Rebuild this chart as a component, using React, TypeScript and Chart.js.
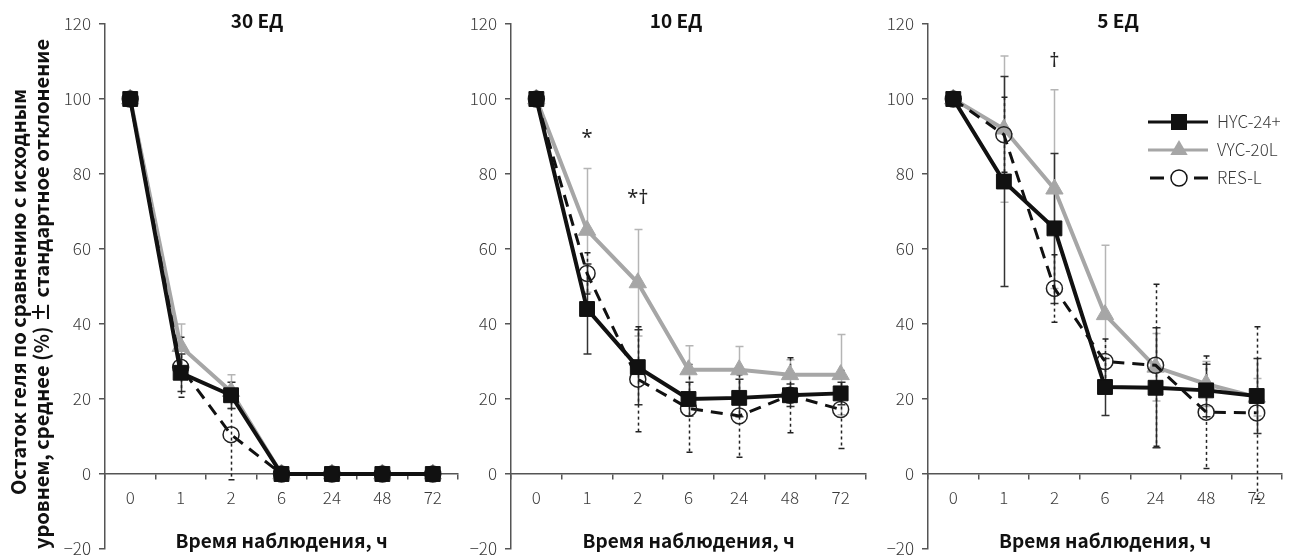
import React, { useEffect, useRef } from 'react';
import { Chart, registerables } from 'chart.js';

Chart.register(...registerables);

// ---------- data ----------
const categories = ['0', '1', '2', '6', '24', '48', '72'];
const seriesNames = ['HYC-24+', 'VYC-20L', 'RES-L'];
const panelTitles = ['30 ЕД', '10 ЕД', '5 ЕД'];
const xAxisTitle = 'Время наблюдения, ч';
const yAxisTitleLines = [
  'Остаток геля по сравнению с исходным',
  'уровнем, среднее (%) ± стандартное отклонение',
];

// 30 ЕД
const hyc30 = [100, 27, 21, 0, 0, 0, 0];
const vyc30 = [100, 34, 22, 0, 0, 0, 0];
const res30 = [100, 28.5, 10.5, 0, 0, 0, 0];
const hyc30Err = [0, 5, 3.5, 0, 0, 0, 0];
const vyc30Err = [0, 6, 4.5, 0, 0, 0, 0];
const res30Err = [0, 8, 12, 0, 0, 0, 0];

// 10 ЕД
const hyc10 = [100, 44, 28.5, 20, 20.3, 21, 21.5];
const vyc10 = [100, 65, 51, 27.8, 27.8, 26.5, 26.5];
const res10 = [100, 53.5, 25.3, 17.5, 15.5, 21, 17.2];
const hyc10Err = [0, 12, 10, 4.5, 5, 3, 3];
const vyc10Err = [0, 16.5, 14.2, 6.4, 6.2, 4, 10.7];
const res10Err = [0, 5.5, 14, 11.7, 11, 10, 10.4];

// 5 ЕД
const hyc5 = [100, 78, 65.5, 23.2, 23, 22.3, 20.8];
const vyc5 = [100, 92, 76, 42.5, 28.5, 24, 20.5];
const res5 = [100, 90.5, 49.5, 30, 29, 16.5, 16.3];
const hyc5Err = [0, 28, 20, 7.6, 16, 7, 10];
const vyc5Err = [0, 19.5, 26.5, 18.5, 9, 6, 5];
const res5Err = [0, 10, 9, 6, 21.6, 15, 23];

// significance marks
const annot10Labels = ['*', '*†'];
const annot10Cats = [1, 2];
const annot10Values = [89.5, 73.5];
const annot5Labels = ['†'];
const annot5Cats = [2];
const annot5Values = [110];

const yMin = -20;
const yMax = 120;
const yStep = 20;

// ---------- layout / style ----------
const W = 1298;
const H = 570;
const AREA_TOP = 24;
const AREA_BOTTOM = 549;
const Y_W = 45;
const FONT = '"Noto Sans CJK JP", "Noto Sans", sans-serif';
const ANNOT_FONT = '"Noto Sans", "DejaVu Sans", sans-serif';
const TICK_COLOR = '#3a3a3a';
const AXIS_COLOR = '#555555';
const BLACK = '#111111';
const GRAY = '#a6a6a6';

const panelLefts = [105, 511, 928];
const panelWidths = [353, 355, 354];
const titleXs = [257, 676, 1118];

const panels = [
  { title: panelTitles[0], hyc: hyc30, vyc: vyc30, res: res30, hycErr: hyc30Err, vycErr: vyc30Err, resErr: res30Err, aL: [] as string[], aC: [] as number[], aV: [] as number[], legend: false, yTitle: true },
  { title: panelTitles[1], hyc: hyc10, vyc: vyc10, res: res10, hycErr: hyc10Err, vycErr: vyc10Err, resErr: res10Err, aL: annot10Labels, aC: annot10Cats, aV: annot10Values, legend: false, yTitle: false },
  { title: panelTitles[2], hyc: hyc5, vyc: vyc5, res: res5, hycErr: hyc5Err, vycErr: vyc5Err, resErr: res5Err, aL: annot5Labels, aC: annot5Cats, aV: annot5Values, legend: true, yTitle: false },
];

const errorBarPlugin = {
  id: 'errorBars',
  beforeDatasetsDraw(chart: any) {
    const { ctx } = chart;
    const xs = chart.scales.x;
    const ys = chart.scales.y;
    const order = [2, 0, 1];
    order.forEach((di) => {
      const ds = chart.data.datasets[di];
      const errs: number[] = ds.errors || [];
      const st = ds.errStyle;
      ctx.save();
      ctx.strokeStyle = st.color;
      ctx.lineWidth = st.width;
      ctx.setLineDash(st.dash);
      errs.forEach((e, i) => {
        if (!e) return;
        const v = ds.data[i];
        const px = Math.round(xs.getPixelForValue(i)) + 0.5;
        const t = ys.getPixelForValue(v + e);
        const b = ys.getPixelForValue(v - e);
        ctx.beginPath();
        ctx.moveTo(px, t);
        ctx.lineTo(px, b);
        ctx.stroke();
        ctx.setLineDash([]);
        ctx.beginPath();
        ctx.moveTo(px - st.cap, t);
        ctx.lineTo(px + st.cap, t);
        ctx.moveTo(px - st.cap, b);
        ctx.lineTo(px + st.cap, b);
        ctx.stroke();
        ctx.setLineDash(st.dash);
      });
      ctx.restore();
    });
  },
};

const decorPlugin = {
  id: 'decor',
  afterDraw(chart: any, _args: any, opts: any) {
    const { ctx, chartArea } = chart;
    const xs = chart.scales.x;
    const ys = chart.scales.y;
    ctx.save();
    // panel title
    ctx.fillStyle = BLACK;
    ctx.font = `bold 19px ${FONT}`;
    ctx.textAlign = 'center';
    ctx.textBaseline = 'middle';
    ctx.fillText(opts.title, opts.titleX, 21);
    // x axis title
    ctx.fillText(xAxisTitle, (chartArea.left + chartArea.right) / 2, 541);
    // y axis title
    if (opts.yTitle) {
      ctx.font = `bold 20px ${FONT}`;
      ctx.save();
      ctx.translate(18, 292);
      ctx.rotate(-Math.PI / 2);
      ctx.fillText(yAxisTitleLines[0], 0, 0);
      ctx.restore();
      ctx.save();
      ctx.translate(41, 294);
      ctx.rotate(-Math.PI / 2);
      ctx.fillText(yAxisTitleLines[1], 0, 0);
      ctx.restore();
    }
    // significance marks
    ctx.font = `400 20px ${ANNOT_FONT}`;
    ctx.fillStyle = '#222';
    (opts.aL as string[]).forEach((lab, k) => {
      ctx.fillText(lab, xs.getPixelForValue(opts.aC[k]), ys.getPixelForValue(opts.aV[k]));
    });
    // legend
    if (opts.legend) {
      const rows = [122, 150, 178];
      const x0 = 1148, x1 = 1208, xm = 1179, xt = 1217;
      // HYC
      ctx.strokeStyle = BLACK;
      ctx.lineWidth = 3;
      ctx.beginPath(); ctx.moveTo(x0, rows[0]); ctx.lineTo(x1, rows[0]); ctx.stroke();
      ctx.fillStyle = BLACK;
      ctx.fillRect(xm - 8, rows[0] - 8, 16, 16);
      // VYC
      ctx.strokeStyle = GRAY;
      ctx.beginPath(); ctx.moveTo(x0, rows[1]); ctx.lineTo(x1, rows[1]); ctx.stroke();
      ctx.fillStyle = GRAY;
      ctx.beginPath();
      ctx.moveTo(xm, rows[1] - 10);
      ctx.lineTo(xm + 8.7, rows[1] + 5);
      ctx.lineTo(xm - 8.7, rows[1] + 5);
      ctx.closePath();
      ctx.fill();
      // RES
      ctx.strokeStyle = BLACK;
      ctx.beginPath();
      ctx.moveTo(x0 + 2, rows[2]); ctx.lineTo(x0 + 16, rows[2]);
      ctx.moveTo(x1 - 14, rows[2]); ctx.lineTo(x1, rows[2]);
      ctx.stroke();
      ctx.lineWidth = 1.5;
      ctx.beginPath(); ctx.arc(xm, rows[2], 8, 0, Math.PI * 2); ctx.stroke();
      ctx.fillStyle = TICK_COLOR;
      ctx.font = `300 17px ${FONT}`;
      ctx.textAlign = 'left';
      seriesNames.forEach((n, k) => ctx.fillText(n, xt, rows[k]));
    }
    ctx.restore();
  },
};

function makeConfig(p: any, idx: number): any {
  const left = panelLefts[idx];
  const right = left + panelWidths[idx];
  return {
    type: 'line',
    data: {
      labels: categories,
      datasets: [
        {
          label: seriesNames[0], data: p.hyc, errors: p.hycErr,
          errStyle: { color: '#333', width: 1.5, dash: [], cap: 4 },
          borderColor: BLACK, backgroundColor: BLACK, borderWidth: 4,
          pointStyle: 'rect', pointRadius: 10.5, pointBorderWidth: 1,
          pointBackgroundColor: BLACK, pointBorderColor: BLACK, tension: 0,
        },
        {
          label: seriesNames[2], data: p.res, errors: p.resErr,
          errStyle: { color: '#222', width: 1.5, dash: [3, 3], cap: 3 },
          borderColor: BLACK, borderWidth: 3, borderDash: [12, 8],
          pointStyle: 'circle', pointRadius: 8, pointBorderWidth: 1.5,
          pointBackgroundColor: 'rgba(0,0,0,0)', pointBorderColor: '#222', tension: 0,
        },
        {
          label: seriesNames[1], data: p.vyc, errors: p.vycErr,
          errStyle: { color: '#b5b5b5', width: 1.5, dash: [], cap: 4 },
          borderColor: GRAY, backgroundColor: GRAY, borderWidth: 4,
          pointStyle: 'triangle', pointRadius: 10, pointBorderWidth: 1,
          pointBackgroundColor: GRAY, pointBorderColor: GRAY, tension: 0,
        },
      ],
    },
    options: {
      responsive: false,
      animation: false,
      devicePixelRatio: 1,
      events: [],
      layout: {
        padding: { left: left - Y_W, right: W - right, top: AREA_TOP, bottom: H - AREA_BOTTOM },
      },
      plugins: {
        legend: { display: false },
        tooltip: { enabled: false },
        title: { display: false },
        decor: {
          title: p.title, titleX: titleXs[idx], yTitle: p.yTitle, legend: p.legend,
          aL: p.aL, aC: p.aC, aV: p.aV,
        },
      },
      scales: {
        x: {
          type: 'category',
          position: { y: 0 },
          offset: true,
          grid: { display: true, drawOnChartArea: false, drawTicks: true, tickLength: 5, color: AXIS_COLOR, lineWidth: 1.5, offset: true },
          border: { display: true, color: AXIS_COLOR, width: 1.5 },
          ticks: { color: TICK_COLOR, padding: 8, font: { family: FONT, size: 17, weight: '300' }, maxRotation: 0, autoSkip: false },
        },
        y: {
          min: yMin, max: yMax,
          afterFit: (s: any) => { s.width = Y_W; },
          grid: { display: true, drawOnChartArea: false, drawTicks: true, tickLength: 6, color: AXIS_COLOR, lineWidth: 1.5 },
          border: { display: true, color: AXIS_COLOR, width: 1.5 },
          ticks: {
            stepSize: yStep, padding: 8, color: TICK_COLOR,
            font: { family: FONT, size: 17, weight: '300' },
            callback: (v: any) => String(v).replace('-', '−'),
          },
        },
      },
    },
    plugins: [errorBarPlugin, decorPlugin],
  };
}

function Panel({ idx }: { idx: number }) {
  const ref = useRef<HTMLCanvasElement | null>(null);
  useEffect(() => {
    if (!ref.current) return;
    const chart = new Chart(ref.current, makeConfig(panels[idx], idx));
    return () => chart.destroy();
  }, [idx]);
  return (
    <canvas
      ref={ref}
      width={W}
      height={H}
      style={{ position: 'absolute', left: 0, top: 0, width: W, height: H }}
    />
  );
}

export default function App() {
  useEffect(() => {
    document.body.style.margin = '0';
  }, []);
  return (
    <div style={{ position: 'relative', width: W, height: 556, overflow: 'hidden', background: '#fff' }}>
      <Panel idx={0} />
      <Panel idx={1} />
      <Panel idx={2} />
    </div>
  );
}
